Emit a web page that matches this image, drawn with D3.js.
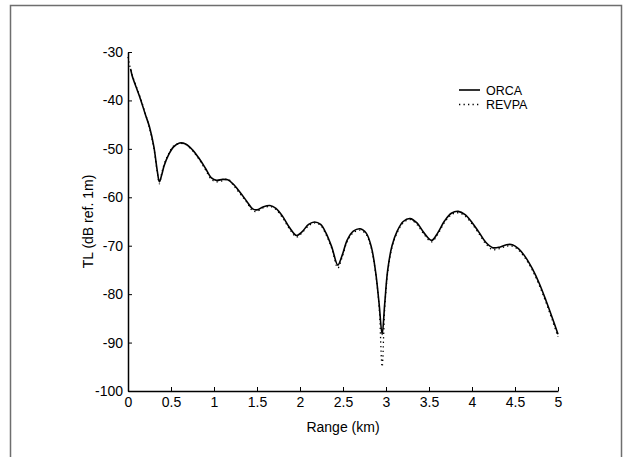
<!DOCTYPE html>
<html>
<head>
<meta charset="utf-8">
<script src="https://cdn.jsdelivr.net/npm/d3@7"></script>
<style>
body { margin: 0; background: #fff; }
text { font-family: "Liberation Sans", Arial, sans-serif; }
</style>
</head>
<body>
<svg id="chart"></svg>
<script>
// range (km) and TL (dB)
var orcaRange = [0.03,0.05,0.1,0.15,0.2,0.25,0.3,0.34,0.365,0.39,0.42,0.47,0.53,0.6,0.67,0.75,0.82,0.9,0.97,1.03,1.1,1.16,1.22,1.3,1.38,1.45,1.5,1.57,1.65,1.72,1.8,1.88,1.96,2.02,2.1,2.17,2.24,2.3,2.37,2.44,2.49,2.55,2.62,2.7,2.77,2.83,2.88,2.92,2.955,2.985,3.02,3.07,3.13,3.2,3.28,3.36,3.44,3.53,3.6,3.68,3.76,3.84,3.92,4.0,4.08,4.16,4.24,4.32,4.4,4.47,4.54,4.62,4.7,4.78,4.86,4.93,5.0];
var orcaTL = [-33.5,-35,-37.5,-40,-42.8,-45.5,-49.5,-54.5,-56.8,-55.5,-53.5,-51.3,-49.6,-48.8,-49,-50.2,-51.8,-54,-56,-56.5,-56.3,-56.4,-57.2,-58.9,-60.8,-62.4,-62.6,-62,-61.7,-62.3,-64,-66.3,-67.9,-67.2,-65.6,-65.1,-65.6,-67.3,-70.3,-74,-72,-68.8,-67,-66.5,-67.4,-70.3,-75.5,-82,-88.3,-82,-75,-70,-67,-65,-64.4,-65.3,-67.3,-68.9,-67.4,-64.9,-63.3,-62.9,-63.6,-65.2,-67.2,-69.3,-70.4,-70.3,-69.8,-69.8,-70.6,-72.3,-74.7,-77.7,-81.3,-84.7,-88.3];

var revpaRange = [0,0.02,0.05,0.1,0.15,0.2,0.25,0.3,0.34,0.365,0.39,0.42,0.47,0.53,0.6,0.67,0.75,0.82,0.9,0.97,1.03,1.1,1.16,1.22,1.3,1.38,1.45,1.5,1.57,1.65,1.72,1.8,1.88,1.96,2.02,2.1,2.17,2.24,2.3,2.37,2.44,2.49,2.55,2.62,2.7,2.77,2.83,2.88,2.92,2.955,2.985,3.02,3.07,3.13,3.2,3.28,3.36,3.44,3.53,3.6,3.68,3.76,3.84,3.92,4.0,4.08,4.16,4.24,4.32,4.4,4.47,4.54,4.62,4.7,4.78,4.86,4.93,5.0];
var revpaTL = [-31,-32.8,-34.8,-37.3,-39.8,-42.6,-45.7,-49.8,-54.8,-57.2,-55.2,-53.2,-51.1,-49.4,-48.9,-49.1,-50.4,-52,-54.3,-56.3,-56.8,-56.6,-56.2,-57.4,-59.2,-61,-62.8,-62.9,-62.2,-61.9,-62.5,-64.3,-66.6,-68.2,-67.4,-65.9,-65.3,-65.8,-67.6,-70.6,-74.6,-72.4,-69.1,-67.3,-66.8,-67.7,-70.6,-75.8,-82.6,-95,-83,-75.5,-70.3,-67.3,-65.3,-64.6,-65.6,-67.6,-69.2,-67.7,-65.2,-63.6,-63.2,-63.9,-65.5,-67.5,-69.6,-70.8,-70.6,-70.1,-70.1,-70.9,-72.6,-75,-78.1,-81.7,-85.2,-88.8];

var xTicks = [0,0.5,1,1.5,2,2.5,3,3.5,4,4.5,5];
var xTickLabels = ["0","0.5","1","1.5","2","2.5","3","3.5","4","4.5","5"];
var yTicks = [-30,-40,-50,-60,-70,-80,-90,-100];
var yTickLabels = ["-30","-40","-50","-60","-70","-80","-90","-100"];

var width = 630, height = 457;
var margin = {left: 128, top: 52, right: 72, bottom: 66};

var svg = d3.select("#chart")
    .attr("width", width)
    .attr("height", height);

// outer frame
svg.append("rect")
    .attr("x", 10.5)
    .attr("y", 5.5)
    .attr("width", 611)
    .attr("height", 470)
    .attr("fill", "none")
    .attr("stroke", "#6e6e6e")
    .attr("stroke-width", 1.5);

var x = d3.scaleLinear().domain([0, 5]).range([margin.left, width - margin.right]);
var y = d3.scaleLinear().domain([-100, -30]).range([height - margin.bottom, margin.top]);

svg.append("g")
    .attr("transform", "translate(0," + y(-100) + ")")
    .call(d3.axisBottom(x)
        .tickValues(xTicks)
        .tickFormat(function(d, i){ return xTickLabels[i]; })
        .tickSizeInner(-4)
        .tickSizeOuter(0)
        .tickPadding(6));

svg.append("g")
    .attr("transform", "translate(" + x(0) + ",0)")
    .call(d3.axisLeft(y)
        .tickValues(yTicks)
        .tickFormat(function(d, i){ return yTickLabels[i]; })
        .tickSizeInner(-4)
        .tickSizeOuter(0)
        .tickPadding(5));

svg.selectAll(".domain").attr("stroke", "#000").attr("stroke-width", 1.5);
svg.selectAll(".tick line").attr("stroke", "#000").attr("stroke-width", 1);
svg.selectAll(".tick text")
    .attr("fill", "#000")
    .style("font-size", "14px")
    .style("font-family", "Liberation Sans, Arial, sans-serif");

// axis titles
svg.append("text")
    .attr("x", x(2.5))
    .attr("y", 432)
    .attr("text-anchor", "middle")
    .style("font-size", "14px")
    .text("Range (km)");

svg.append("text")
    .attr("transform", "translate(93," + y(-65) + ") rotate(-90)")
    .attr("text-anchor", "middle")
    .style("font-size", "14px")
    .text("TL (dB ref. 1m)");

var line = d3.line()
    .x(function(d){ return x(d[0]); })
    .y(function(d){ return y(d[1]); })
    .curve(d3.curveCatmullRom);

var orca = orcaRange.map(function(r, i){ return [r, orcaTL[i]]; });
var revpa = revpaRange.map(function(r, i){ return [r, revpaTL[i]]; });

svg.append("path")
    .datum(orca)
    .attr("d", line)
    .attr("fill", "none")
    .attr("stroke", "#000")
    .attr("stroke-width", 1.6);

svg.append("path")
    .datum(revpa)
    .attr("d", line)
    .attr("fill", "none")
    .attr("stroke", "#000")
    .attr("stroke-width", 1.3)
    .attr("stroke-dasharray", "1.3,3.2");

// legend
var legend = svg.append("g").attr("transform", "translate(459,90)");
legend.append("line")
    .attr("x1", 0).attr("x2", 21).attr("y1", 0).attr("y2", 0)
    .attr("stroke", "#000").attr("stroke-width", 1.6);
legend.append("text")
    .attr("x", 27).attr("y", 4.5)
    .style("font-size", "12.5px")
    .text("ORCA");
legend.append("line")
    .attr("x1", 0).attr("x2", 21).attr("y1", 14.5).attr("y2", 14.5)
    .attr("stroke", "#000").attr("stroke-width", 1.3)
    .attr("stroke-dasharray", "1.3,3.2");
legend.append("text")
    .attr("x", 27).attr("y", 19)
    .style("font-size", "12.5px")
    .text("REVPA");
</script>
</body>
</html>
